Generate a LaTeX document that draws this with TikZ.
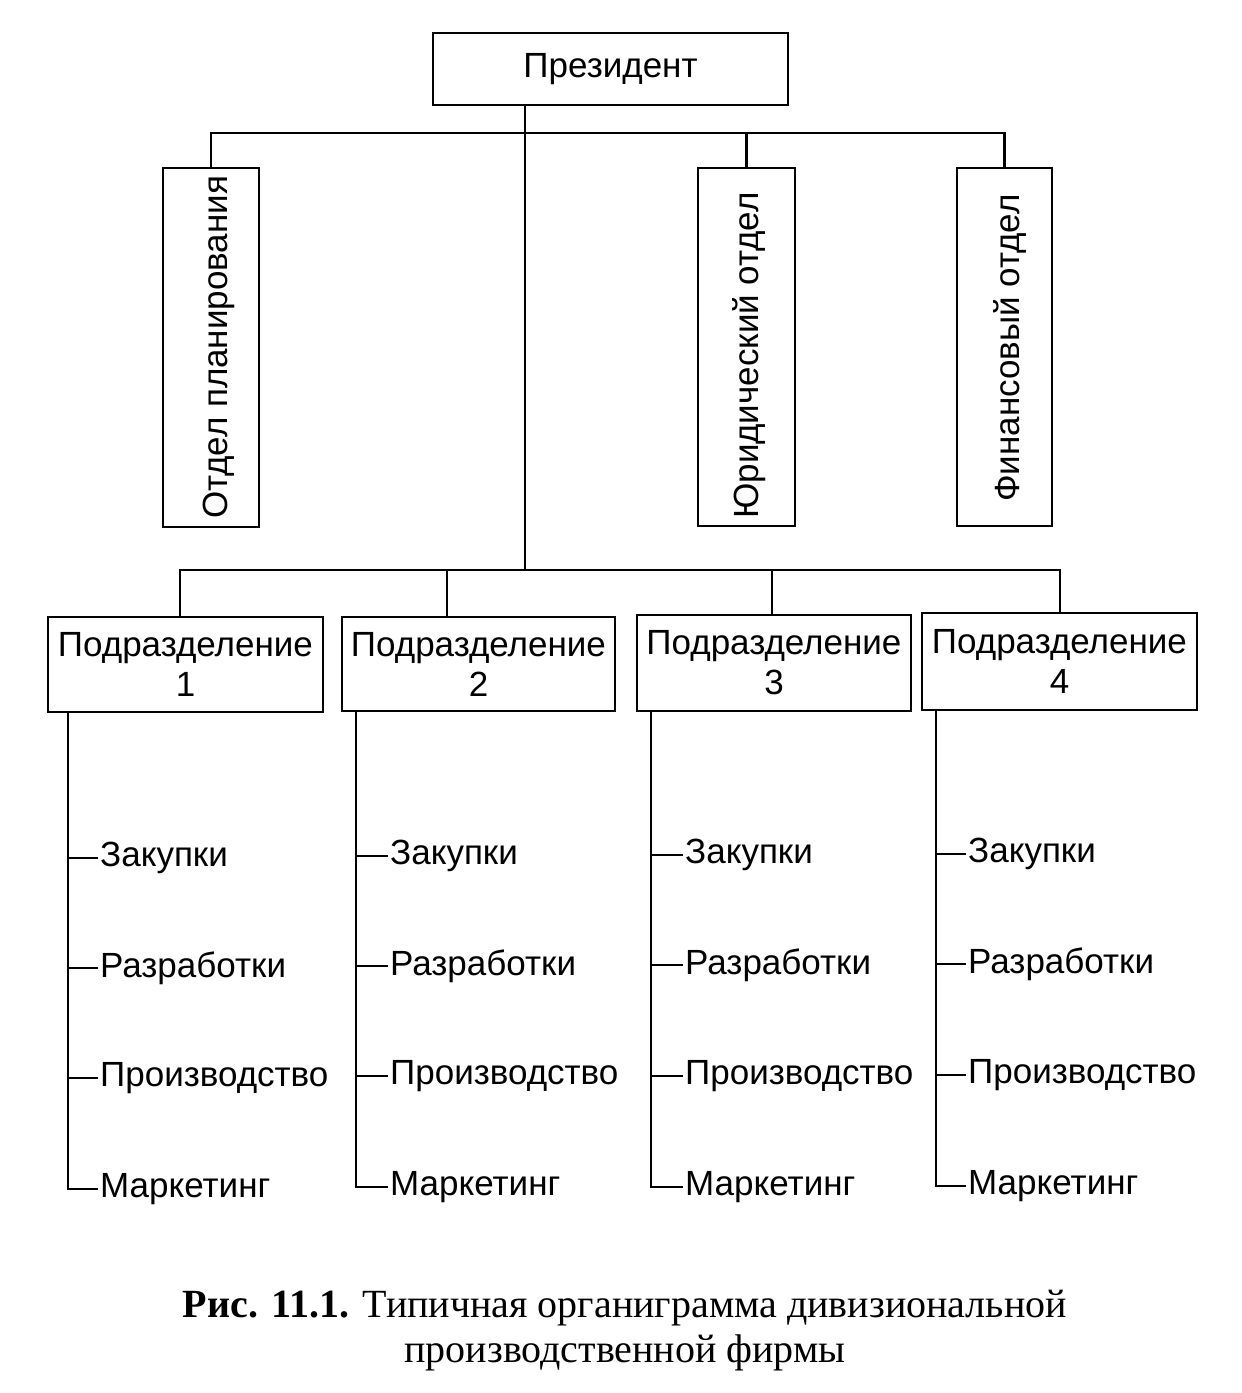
\documentclass[tikz,border=0pt]{standalone}
\usepackage{fontspec}
\setmainfont{Liberation Sans}
\newfontfamily\capfont{Liberation Serif}
\usetikzlibrary{calc}
\begin{document}
\begin{tikzpicture}[x=1pt,y=-1pt,
  every node/.style={font=\fontsize{35}{40}\selectfont},
  box/.style={draw, line width=2.6pt, inner sep=0pt, align=center},
  item/.style={anchor=west, inner sep=2pt},
  conn/.style={line width=2.6pt},
  thin/.style={line width=2.2pt}]
\useasboundingbox (0,0) rectangle (1242,1393);

% President
\node[box, minimum width=355, minimum height=72] (pres) at (610.5,69) {\raisebox{5pt}{Президент}};

% staff departments
\node[box, minimum width=96, minimum height=359] (plan) at (211,347.5) {};
\node[box, minimum width=97, minimum height=358] (jur) at (746.5,347) {};
\node[box, minimum width=95, minimum height=358] (fin) at (1004.5,347) {};
\node[rotate=90, anchor=west, inner sep=0pt] (plant) at (219,519) {Отдел планирования};
\node[rotate=90, anchor=west, inner sep=0pt] (jurt) at (749,519) {Юридический отдел};
\node[rotate=90, anchor=west, inner sep=0pt] (fint) at (1010,502) {Финансовый отдел};

% divisions
\node[box, minimum width=275, minimum height=95] (d1) at (185.5,664.5) {Подразделение\\1};
\node[box, minimum width=273, minimum height=94] (d2) at (478.5,664) {Подразделение\\2};
\node[box, minimum width=274, minimum height=96] (d3) at (774,663) {Подразделение\\3};
\node[box, minimum width=275, minimum height=97] (d4) at (1059.5,661.5) {Подразделение\\4};

% junctions
\coordinate (j1) at (525,133);
\coordinate (j2) at (525,570);

% trunk
\draw[conn] (pres.south -| j1) -- (j2);
% top bus
\draw[conn] (plan.north) -- (plan.north |- j1) -- (fin.north |- j1) -- (fin.north);
\draw[conn] (jur.north) -- (jur.north |- j1);
% lower bus
\coordinate (k1) at ([xshift=-5.5pt]d1.north);
\coordinate (k2) at ([xshift=-31.5pt]d2.north);
\coordinate (k3) at ([xshift=-2pt]d3.north);
\coordinate (k4) at ([xshift=0.5pt]d4.north);
\draw[conn] (k1) -- (k1 |- j2) -- (k4 |- j2) -- (k4);
\draw[conn] (k2) -- (k2 |- j2);
\draw[conn] (k3) -- (k3 |- j2);

% sub-units
\foreach \d/\vx/\tx/\ya/\yb/\yc/\yd in {1/68/98/858/968/1078/1189, 2/356/388/856/966/1076/1187, 3/651/683/855/965/1076/1187, 4/936/966/854/964/1075/1186}{
  \node[item] (z\d) at (\tx,\ya) {Закупки};
  \node[item] (r\d) at (\tx,\yb) {Разработки};
  \node[item] (p\d) at (\tx,\yc) {Производство};
  \node[item] (m\d) at (\tx,\yd) {Маркетинг};
  \coordinate (v\d) at (\vx,0);
  \draw[thin] (v\d |- d\d.south) -- (v\d |- m\d.west) -- (m\d.west);
  \draw[thin] (v\d |- z\d.west) -- (z\d.west);
  \draw[thin] (v\d |- r\d.west) -- (r\d.west);
  \draw[thin] (v\d |- p\d.west) -- (p\d.west);
}

% caption
\node[align=center, font=\capfont\fontsize{40}{45}\selectfont] (cap) at (625,1331)
  {\textbf{Рис. 11.1.} Типичная органиграмма дивизиональной\\производственной фирмы};
\end{tikzpicture}
\end{document}
